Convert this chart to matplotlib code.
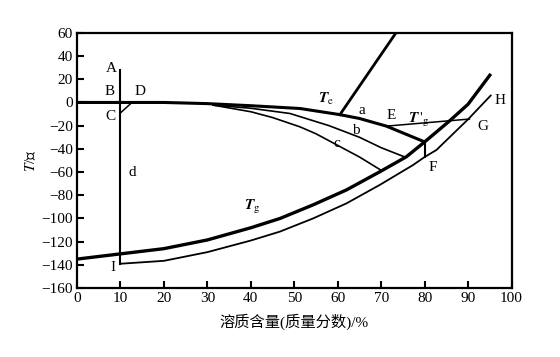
import numpy as np
import matplotlib.pyplot as plt

plt.rcParams['font.family'] = ['Liberation Serif', 'Noto Sans CJK SC']
plt.rcParams['mathtext.fontset'] = 'stix'
plt.rcParams['axes.unicode_minus'] = True

# freezing curve Tm (thick), from 0% to the point on the Tg curve
tm_x = [0, 10, 20, 30, 40, 51.3, 60.5, 65, 71.2, 80]
tm_y = [0, 0, 0, -1, -2.8, -5.2, -10.5, -13.8, -20.4, -34]
# eutectic line Te
te_x = [60.5, 73.4]
te_y = [-10.5, 60]
# Tg' line E -> G
tgp_x = [71.2, 90.3]
tgp_y = [-20.4, -14.3]
# path b
b_x = [31.3, 40, 49, 58, 65, 70, 75.3]
b_y = [-2.3, -5, -9.5, -20, -30, -39, -46.8]
# path c
c_x = [31.3, 40, 45, 51.3, 55, 60, 65, 70]
c_y = [-2.3, -8, -13, -21, -27, -37, -47, -58.5]
# glass transition curve Tg (thick)
tg_x = [0, 10, 20, 30, 40, 46.7, 54.3, 62, 69.7, 75.8, 80, 85.7, 90, 95]
tg_y = [-135, -130.5, -126, -118.5, -108, -100, -88.3, -75.4, -59.7, -46.8, -34, -16, -1.5, 23.5]
# lower curve I -> H
low_x = [10, 20, 30, 40, 46.7, 54.3, 62, 69.7, 77.3, 80, 82.7, 90, 95.2]
low_y = [-139, -136.5, -129, -119, -111.3, -100, -87, -71, -54, -47, -41, -14.5, 6]
# vertical A-I at 10 %, C-D step, F step
ai_x = [10, 10]
ai_y = [28, -139]
cd_x = [10, 12.5]
cd_y = [-9, -0.5]
f_x = [80, 80]
f_y = [-34, -47]

fig = plt.figure(figsize=(5.6, 3.57), dpi=100)
ax = fig.add_axes([0.1375, 0.193, 0.776, 0.715])

k = 'black'
ax.plot(tm_x, tm_y, color=k, lw=2.2)
ax.plot(te_x, te_y, color=k, lw=2.0)
ax.plot(tgp_x, tgp_y, color=k, lw=1.1)
ax.plot(b_x, b_y, color=k, lw=1.2)
ax.plot(c_x, c_y, color=k, lw=1.2)
ax.plot(tg_x, tg_y, color=k, lw=2.4)
ax.plot(low_x, low_y, color=k, lw=1.3)
ax.plot(ai_x, ai_y, color=k, lw=1.5)
ax.plot(cd_x, cd_y, color=k, lw=1.1)
ax.plot(f_x, f_y, color=k, lw=1.5)

fs = 11
labels = [('A', 8.0, 29), ('B', 7.6, 9.7), ('D', 14.5, 9.7), ('C', 7.6, -12),
          ('d', 12.6, -60), ('I', 8.3, -142.6), ('a', 65.5, -6.7), ('E', 72.2, -11),
          ('b', 64.1, -24), ('c', 59.8, -35), ('F', 81.8, -56), ('G', 93.3, -21),
          ('H', 97.3, 2)]
for s, x, y in labels:
    ax.text(x, y, s, fontsize=fs, ha='center', va='center')
ax.text(57.4, 3.4, r'$\mathbfit{T}_{\mathrm{e}}$', fontsize=fs, ha='center', va='center')
ax.text(78.6, -15.5, r"$\mathbfit{T}\,'_{\mathrm{g}}$", fontsize=fs, ha='center', va='center')
ax.text(40.3, -90, r'$\mathbfit{T}_{\mathrm{g}}$', fontsize=fs, ha='center', va='center')

ax.set_xlim(0, 100)
ax.set_ylim(-160, 60)
ax.set_xticks(np.arange(0, 101, 10))
ax.set_yticks(np.arange(-160, 61, 20))
ax.tick_params(direction='in', length=5, width=1.5, labelsize=fs, pad=3)
for sp in ax.spines.values():
    sp.set_linewidth(1.6)

ax.set_xlabel('溶质含量(质量分数)/%', fontsize=fs, labelpad=6)
ax.set_ylabel(r'$\mathit{T}$/℃', fontsize=fs, labelpad=2)

fig.savefig('out.png', dpi=100)
